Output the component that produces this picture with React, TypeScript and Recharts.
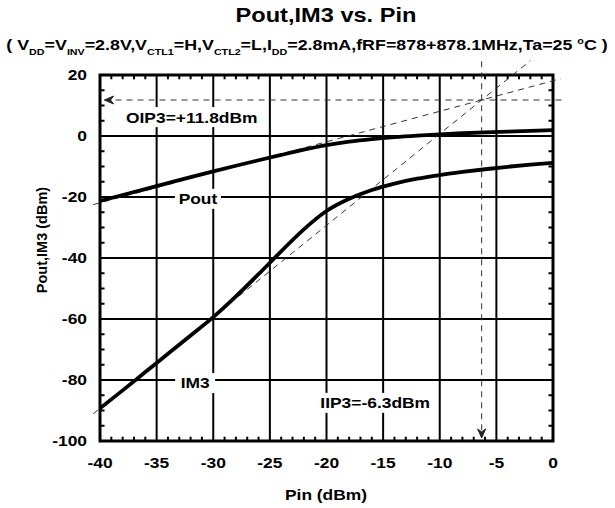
import React from 'react';
import {
  LineChart,
  Line,
  XAxis,
  YAxis,
  CartesianGrid,
  ReferenceLine,
  ReferenceDot,
  ReferenceArea
} from 'recharts';

const pinValues = [-40, -38, -36, -34, -32, -30, -28, -26, -24, -22, -20, -18, -16, -14, -12, -10, -8, -6, -4, -2, 0];
const poutValues = [-21.3, -19.35, -17.4, -15.45, -13.5, -11.6, -9.75, -7.95, -6.2, -4.5, -3.0, -1.85, -1.0, -0.35, 0.15, 0.55, 0.9, 1.2, 1.45, 1.7, 1.9];
const im3Values = [-89.3, -83.4, -77.4, -71.4, -65.4, -59.4, -52.6, -45.3, -37.8, -30.6, -24.6, -20.6, -17.7, -15.6, -14.0, -12.8, -11.8, -10.9, -10.1, -9.4, -8.8];

const xTicks = [-40, -35, -30, -25, -20, -15, -10, -5, 0];
const yTicks = [-100, -80, -60, -40, -20, 0, 20];

// intercept point
const iip3 = -6.3;
const oip3 = 11.8;

// extrapolated (dashed) lines: [x, y] end points
const poutFit = [[-40.6, -22.5], [0.7, 18.8]];
const im3Fit = [[-40.6, -91.1], [-2.0, 24.7]];
const oip3Guide = [[-39.6, oip3], [0.9, oip3]];
const iip3Guide = [[iip3, 24.5], [iip3, -98.8]];

const data = pinValues.map((pin, i) => ({ pin, pout: poutValues[i], im3: im3Values[i] }));

const minorX: number[] = [];
for (let v = -39; v < 0; v++) if (v % 5 !== 0) minorX.push(v);
const minorY: number[] = [];
for (let v = -95; v < 20; v += 5) if (v % 20 !== 0) minorY.push(v);

const FONT = '"Liberation Sans", Arial, sans-serif';
const DASH = '6 5';
const SX = 1.16; // the original text is drawn a bit wide

const seg = (p: number[][]) => [{ x: p[0][0], y: p[0][1] }, { x: p[1][0], y: p[1][1] }];

const boxLabel = (text: string, w: number) => (props: any) => {
  const { cx, cy } = props;
  return (
    <g>
      <rect x={cx - w / 2} y={cy - 10} width={w} height={20} fill="#fff" />
      <text
        transform={`translate(${cx},${cy}) scale(${SX},1)`}
        dy="0.36em"
        textAnchor="middle"
        fontFamily={FONT}
        fontWeight="bold"
        fontSize={15}
        fill="#000"
      >
        {text}
      </text>
    </g>
  );
};

const XTick = (props: any) => {
  const { x, y, payload } = props;
  return (
    <text transform={`translate(${x},${y}) scale(${SX},1)`} dy="0.71em" textAnchor="middle" fontFamily={FONT} fontWeight="bold" fontSize={15} fill="#000">
      {payload.value}
    </text>
  );
};

const YTick = (props: any) => {
  const { x, y, payload } = props;
  return (
    <text transform={`translate(${x},${y}) scale(${SX},1)`} dy="0.36em" textAnchor="end" fontFamily={FONT} fontWeight="bold" fontSize={15} fill="#000">
      {payload.value}
    </text>
  );
};

const leftArrow = (props: any) => {
  const { cx, cy } = props;
  return <path d={`M${cx},${cy} L${cx + 9},${cy - 4} L${cx + 6},${cy} L${cx + 9},${cy + 4} Z`} fill="#222" stroke="#222" strokeWidth={1} />;
};

const downArrow = (props: any) => {
  const { cx, cy } = props;
  return <path d={`M${cx},${cy} L${cx - 4},${cy - 9} L${cx},${cy - 6} L${cx + 4},${cy - 9} Z`} fill="#222" stroke="#222" strokeWidth={1} />;
};

export default function App() {
  return (
    <div style={{ position: 'absolute', left: 0, top: 0, width: 615, height: 508, background: '#fff' }}>
      <LineChart width={615} height={508} data={data} margin={{ top: 75, right: 62, left: 40, bottom: 37 }}>
        <CartesianGrid stroke="#000" strokeWidth={2} />
        <XAxis
          dataKey="pin"
          type="number"
          domain={[-40, 0]}
          ticks={xTicks}
          allowDataOverflow
          axisLine={false}
          tickLine={false}
          tickSize={0}
          tickMargin={16}
          height={30}
          tick={<XTick />}
        />
        <YAxis
          type="number"
          domain={[-100, 20]}
          ticks={yTicks}
          allowDataOverflow
          axisLine={false}
          tickLine={false}
          tickSize={0}
          tickMargin={13}
          width={60}
          tick={<YTick />}
        />
        <ReferenceArea x1={-40} x2={0} y1={-100} y2={20} fill="none" stroke="#000" strokeWidth={3} ifOverflow="visible" />
        {minorX.map(v => (
          <ReferenceLine key={`bx${v}`} segment={[{ x: v, y: -100 }, { x: v, y: -98.6 }]} stroke="#000" strokeWidth={2} ifOverflow="visible" />
        ))}
        {minorX.map(v => (
          <ReferenceLine key={`tx${v}`} segment={[{ x: v, y: 20 }, { x: v, y: 18.6 }]} stroke="#000" strokeWidth={2} ifOverflow="visible" />
        ))}
        {minorY.map(v => (
          <ReferenceLine key={`ly${v}`} segment={[{ x: -40, y: v }, { x: -39.6, y: v }]} stroke="#000" strokeWidth={2} ifOverflow="visible" />
        ))}
        {minorY.map(v => (
          <ReferenceLine key={`ry${v}`} segment={[{ x: 0, y: v }, { x: -0.4, y: v }]} stroke="#000" strokeWidth={2} ifOverflow="visible" />
        ))}
        <ReferenceLine segment={seg(poutFit)} stroke="#333" strokeWidth={1} strokeDasharray={DASH} ifOverflow="visible" />
        <ReferenceLine segment={seg(im3Fit)} stroke="#333" strokeWidth={1} strokeDasharray={DASH} ifOverflow="visible" />
        <ReferenceLine segment={seg(oip3Guide)} stroke="#333" strokeWidth={1} strokeDasharray={DASH} ifOverflow="visible" />
        <ReferenceLine segment={seg(iip3Guide)} stroke="#333" strokeWidth={1} strokeDasharray={DASH} ifOverflow="visible" />
        <ReferenceDot x={oip3Guide[0][0]} y={oip3} r={0} shape={leftArrow} ifOverflow="visible" />
        <ReferenceDot x={iip3} y={-99} r={0} shape={downArrow} ifOverflow="visible" />
        <Line type="monotone" dataKey="pout" stroke="#000" strokeWidth={3.8} dot={false} isAnimationActive={false} />
        <Line type="monotone" dataKey="im3" stroke="#000" strokeWidth={3.8} dot={false} isAnimationActive={false} />
        <ReferenceDot x={-31.35} y={-20.6} r={0} shape={boxLabel('Pout', 46)} ifOverflow="visible" />
        <ReferenceDot x={-31.6} y={-81} r={0} shape={boxLabel('IM3', 40)} ifOverflow="visible" />
        <ReferenceDot x={-31.9} y={6.2} r={0} shape={boxLabel('OIP3=+11.8dBm', 138)} ifOverflow="visible" />
        <ReferenceDot x={-15.7} y={-87.5} r={0} shape={boxLabel('IIP3=-6.3dBm', 116)} ifOverflow="visible" />
      </LineChart>
      <svg width={615} height={508} style={{ position: 'absolute', left: 0, top: 0, pointerEvents: 'none' }}>
        <text transform="translate(326,22) scale(1.18,1)" textAnchor="middle" fontFamily={FONT} fontWeight="bold" fontSize={20} fill="#000">
          Pout,IM3 vs. Pin
        </text>
        <text transform="translate(307,50) scale(1.19,1)" textAnchor="middle" fontFamily={FONT} fontWeight="bold" fontSize={15} fill="#000">
          {'( V'}
          <tspan fontSize={9} dy={5}>DD</tspan>
          <tspan dy={-5}>=V</tspan>
          <tspan fontSize={9} dy={5}>INV</tspan>
          <tspan dy={-5}>=2.8V,V</tspan>
          <tspan fontSize={9} dy={5}>CTL1</tspan>
          <tspan dy={-5}>=H,V</tspan>
          <tspan fontSize={9} dy={5}>CTL2</tspan>
          <tspan dy={-5}>=L,I</tspan>
          <tspan fontSize={9} dy={5}>DD</tspan>
          <tspan dy={-5}>=2.8mA,fRF=878+878.1MHz,Ta=25 </tspan>
          <tspan fontSize={9} dy={-6}>o</tspan>
          <tspan dy={6}>C )</tspan>
        </text>
        <text transform={`translate(326,500) scale(${SX},1)`} textAnchor="middle" fontFamily={FONT} fontWeight="bold" fontSize={15} fill="#000">
          Pin (dBm)
        </text>
        <text
          transform="translate(47,240) rotate(-90)"
          textAnchor="middle"
          fontFamily={FONT}
          fontWeight="bold"
          fontSize={14.5}
          fill="#000"
        >
          Pout,IM3 (dBm)
        </text>
      </svg>
    </div>
  );
}
